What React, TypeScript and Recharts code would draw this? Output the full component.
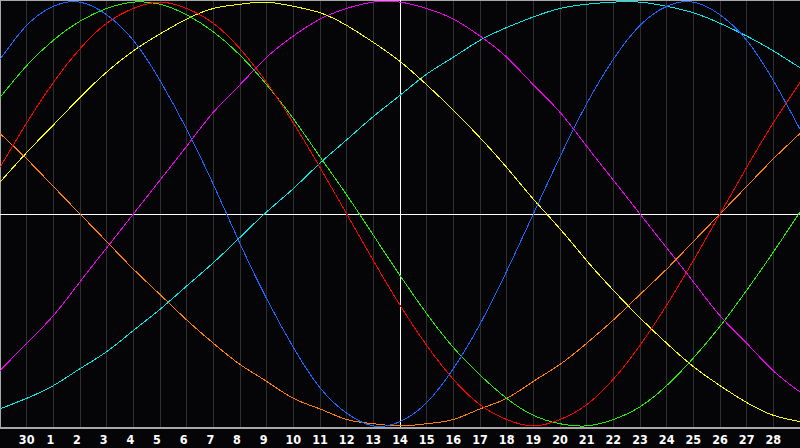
import React from 'react';
import {
  LineChart,
  Line,
  XAxis,
  YAxis,
  CartesianGrid,
  ReferenceLine,
} from 'recharts';

// day positions: -1 = 29th of previous month, 0 = 30th, 1..28 current month, 29 = 29th
const days = [-1, 0, 1, 2, 3, 4, 5, 6, 7, 8, 9, 10, 11, 12, 13, 14, 15, 16, 17, 18, 19, 20, 21, 22, 23, 24, 25, 26, 27, 28, 29];
const tickDays = [0, 1, 2, 3, 4, 5, 6, 7, 8, 9, 10, 11, 12, 13, 14, 15, 16, 17, 18, 19, 20, 21, 22, 23, 24, 25, 26, 27, 28];
const tickLabels = ['30', '1', '2', '3', '4', '5', '6', '7', '8', '9', '10', '11', '12', '13', '14', '15', '16', '17', '18', '19', '20', '21', '22', '23', '24', '25', '26', '27', '28'];
const today = 14;

const physical = [73, 89, 98, 100, 94, 82, 63, 40, 14, -14, -40, -63, -82, -94, -100, -98, -89, -73, -52, -27, 0, 27, 52, 73, 89, 98, 100, 94, 82, 63, 40];
const emotional = [22, 43, 62, 78, 90, 97, 100, 97, 90, 78, 62, 43, 22, 0, -22, -43, -62, -78, -90, -97, -100, -97, -90, -78, -62, -43, -22, 0, 22, 43, 62];
const intellectual = [55, 70, 82, 91, 97, 100, 99, 94, 86, 75, 61, 45, 27, 9, -10, -29, -47, -63, -76, -87, -95, -99, -100, -97, -91, -81, -68, -53, -36, -18, 1];
const intuitive = [-74, -61, -48, -32, -16, 0, 16, 32, 48, 61, 74, 84, 92, 97, 100, 100, 97, 92, 84, 74, 61, 48, 32, 16, 0, -16, -32, -48, -61, -74, -84];
const aesthetic = [15, 29, 42, 55, 67, 77, 85, 92, 97, 99, 100, 98, 95, 89, 81, 72, 61, 49, 36, 22, 7, -7, -22, -36, -49, -61, -72, -81, -89, -95, -98];
const awareness = [38, 26, 13, 0, -13, -26, -38, -50, -61, -71, -79, -87, -92, -97, -99, -100, -99, -97, -92, -87, -79, -71, -61, -50, -38, -26, -13, 0, 13, 26, 38];
const spiritual = [-92, -87, -81, -73, -65, -55, -45, -34, -23, -11, 1, 12, 24, 35, 46, 56, 66, 74, 82, 88, 93, 97, 99, 100, 100, 98, 95, 90, 84, 77, 69];

const data = days.map((d, i) => ({
  d,
  physical: physical[i],
  emotional: emotional[i],
  intellectual: intellectual[i],
  intuitive: intuitive[i],
  aesthetic: aesthetic[i],
  awareness: awareness[i],
  spiritual: spiritual[i],
}));

const series = [
  { key: 'spiritual', color: '#00e8e8' },
  { key: 'intuitive', color: '#ee00ee' },
  { key: 'aesthetic', color: '#ffff00' },
  { key: 'awareness', color: '#ff8000' },
  { key: 'intellectual', color: '#22ee00' },
  { key: 'emotional', color: '#ff0000' },
  { key: 'physical', color: '#1a66ff' },
];

const DayTick = (props: any) => {
  const { x, y, payload } = props;
  const label = tickLabels[tickDays.indexOf(payload.value)] ?? '';
  const shift = label.length === 1 ? -3 : 0;
  return (
    <text
      x={x + shift}
      y={y + 8}
      textAnchor="middle"
      fill="#ffffff"
      fontFamily="'DejaVu Sans Condensed', 'DejaVu Sans', sans-serif"
      fontWeight="bold"
      fontSize={12.5}
    >
      {label}
    </text>
  );
};

export default function App() {
  return (
    <div style={{ position: 'absolute', left: 0, top: 0, width: 800, height: 448, background: '#050508' }}>
      <LineChart
        width={800}
        height={448}
        data={data}
        margin={{ top: 0, right: 0, left: 0, bottom: 0 }}
        style={{ shapeRendering: 'crispEdges' }}
      >
        <CartesianGrid horizontal={false} stroke="#2f2f2f" />
        <XAxis
          dataKey="d"
          type="number"
          domain={[-1, 29]}
          ticks={tickDays}
          interval={0}
          tickLine={false}
          axisLine={{ stroke: '#a8a8a8', strokeWidth: 2 }}
          height={20}
          tick={<DayTick />}
        />
        <YAxis hide type="number" domain={[-101, 101]} />
        <ReferenceLine x={-1} stroke="#a8a8a8" strokeWidth={2} />
        <ReferenceLine y={101} stroke="#a8a8a8" strokeWidth={2} />
        <ReferenceLine y={0} stroke="#ffffff" strokeWidth={1} />
        <ReferenceLine x={today} stroke="#ffffff" strokeWidth={1} />
        {series.map(s => (
          <Line
            key={s.key}
            type="natural"
            dataKey={s.key}
            stroke={s.color}
            strokeWidth={1}
            dot={false}
            activeDot={false}
            isAnimationActive={false}
          />
        ))}
      </LineChart>
    </div>
  );
}
